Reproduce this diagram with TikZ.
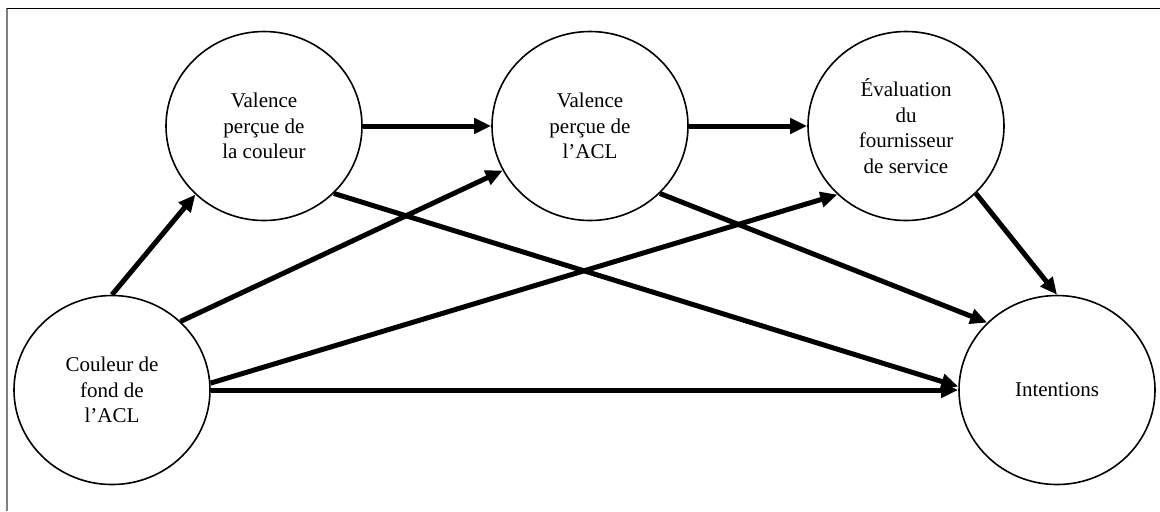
\documentclass[tikz,border=0pt]{standalone}
\usepackage{fontspec}
\setmainfont{Liberation Serif}
\usetikzlibrary{shapes.geometric, arrows.meta}

\begin{document}
\begin{tikzpicture}[x=0.5pt, y=-0.5pt,
    construct/.style={ellipse, draw, line width=0.8pt, minimum width=98pt,
                      minimum height=94.5pt, inner sep=0pt, align=center,
                      font=\fontsize{10.5}{12.75}\selectfont},
    effect/.style={line width=2.5pt, -{Triangle[length=8.5pt, width=7.5pt]}}]
  \useasboundingbox (0,0) rectangle (1160,511);
  % cadre
  \draw[gray, line width=0.8pt] (7,8) -- (7,511);
  \draw[line width=0.5pt] (7,8) -- (1160,8);
  % variables
  \node[construct] (fond)   at (112,390)  {Couleur de\\fond de\\l’ACL};
  \node[construct] (vcol)   at (264,126)  {Valence\\perçue de\\la couleur};
  \node[construct] (vacl)   at (590,126)  {Valence\\perçue de\\l’ACL};
  \node[construct] (eval)   at (906,126)  {Évaluation\\du\\fournisseur\\de service};
  \node[construct] (intent) at (1057,390) {Intentions};
  % liens
  \draw[effect] (fond.north) -- (vcol.225);
  \draw[effect] (fond.45) -- (vacl.207);
  \draw[effect] (fond.4) -- (eval.225);
  \draw[effect] (fond.east) -- (intent.west);
  \draw[effect] (vcol.east) -- (vacl.west);
  \draw[effect] (vacl.east) -- (eval.west);
  \draw[effect] (vcol.-44) -- (intent.178);
  \draw[effect] (vacl.-44) -- (intent.136);
  \draw[effect] (eval.-44) -- (intent.north);
\end{tikzpicture}
\end{document}
